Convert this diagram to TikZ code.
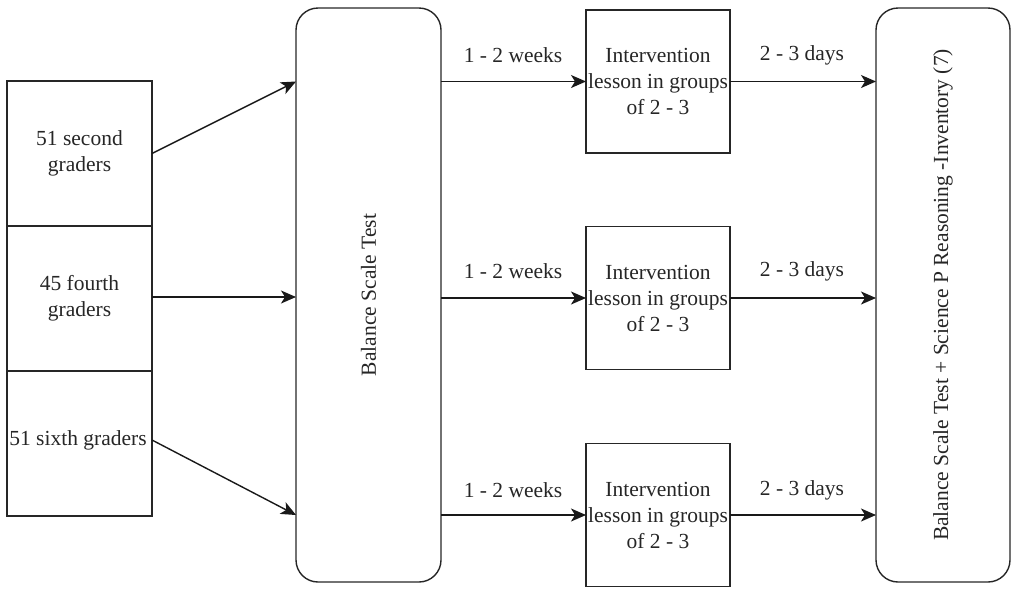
\documentclass[tikz,border=0pt]{standalone}
\usepackage{fontspec}
\setmainfont{Liberation Serif}
\usetikzlibrary{arrows.meta,calc}
\begin{document}
\begin{tikzpicture}[x=1pt,y=-1pt,
  every node/.style={font=\fontsize{21.5}{26}\selectfont, text=black!85},
  box/.style={draw=black!85, line width=1.4pt, inner sep=0pt, outer sep=0pt, align=center},
  rbox/.style={box, rounded corners=22pt},
  arr/.style={draw=black!90, line width=1.4pt, -{Stealth[length=15pt,width=13pt,inset=4pt]}},
  lab/.style={inner sep=0pt}
]
\useasboundingbox (0,0) rectangle (1016,590);
\node[box, minimum width=145pt, minimum height=145pt] (b1) at (79.5,153.5) {51 second\\graders};
\node[box, minimum width=145pt, minimum height=145pt] (b2) at (79.5,298.5) {45 fourth\\graders};
\node[box, minimum width=145pt, minimum height=145pt] (b3) at (79.5,443.5) {};
\node[lab] (b3t) at (78,440) {51 sixth graders};
\node[rbox, minimum width=145pt, minimum height=574pt] (bal) at (368.5,295) {};
\node[lab, rotate=90] (balt) at (368.5,295) {Balance Scale Test};
\node[box, minimum width=144pt, minimum height=143pt] (i1) at (658,81.5) {Intervention\\lesson in groups\\of 2 - 3};
\node[box, minimum width=144pt, minimum height=143pt] (i2) at (658,298) {Intervention\\lesson in groups\\of 2 - 3};
\node[box, minimum width=144pt, minimum height=143pt] (i3) at (658,515) {Intervention\\lesson in groups\\of 2 - 3};
\node[rbox, minimum width=134pt, minimum height=574pt] (fin) at (943,295) {};
\node[lab, rotate=90] (fint) at (943,295) {Balance Scale Test + Science P Reasoning -Inventory (7)};
% left arrows
\draw[arr] (b1.east) -- (bal.west |- i1.west);
\draw[arr] (b2.east |- 0,297) coordinate (b2e) -- (bal.west |- b2e);
\draw[arr] (b3.east |- b3t.east) -- (bal.west |- i3.west);
% middle arrows
\draw[arr] (bal.east |- i1.west) -- (i1.west);
\draw[arr] (bal.east |- i2.west) -- (i2.west);
\draw[arr] (bal.east |- i3.west) -- (i3.west);
\draw[arr] (i1.east) -- (fin.west |- i1.east);
\draw[arr] (i2.east) -- (fin.west |- i2.east);
\draw[arr] (i3.east) -- (fin.west |- i3.east);
% labels
\node[lab] (l1) at (513,55) {1 - 2 weeks};
\node[lab] (l2) at (513,271) {1 - 2 weeks};
\node[lab] (l3) at (513,490) {1 - 2 weeks};
\node[lab] (d1) at (802,55) {2 - 3 days};
\node[lab] (d2) at (802,271) {2 - 3 days};
\node[lab] (d3) at (802,490) {2 - 3 days};
\end{tikzpicture}
\end{document}
